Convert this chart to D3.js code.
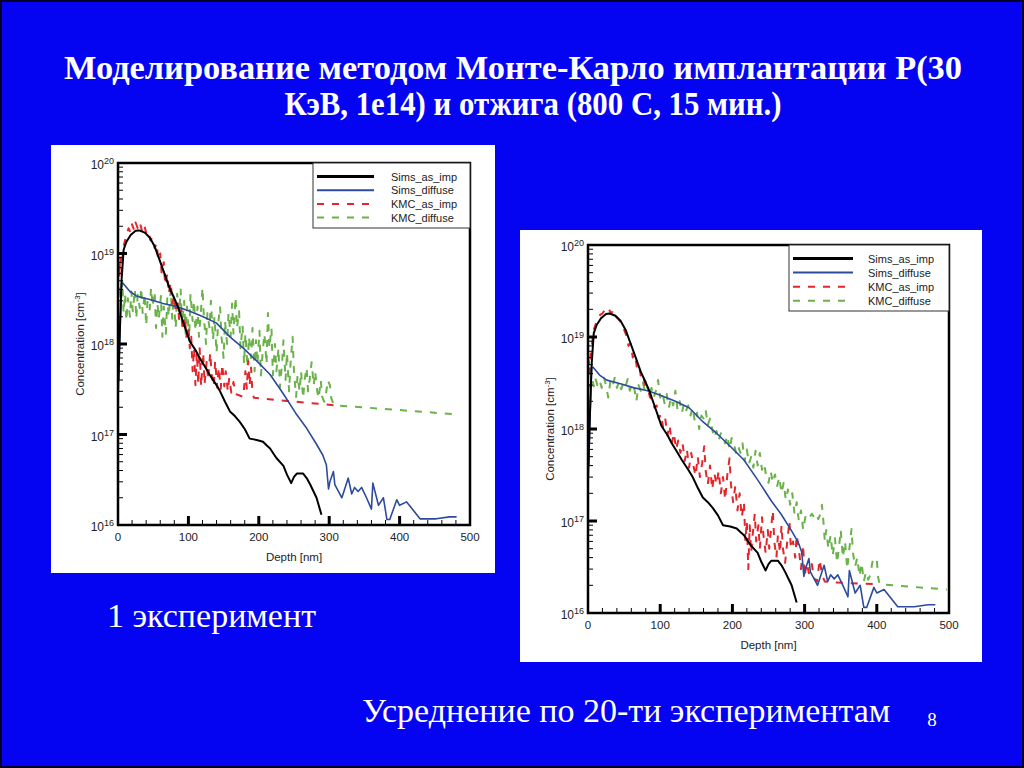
<!DOCTYPE html>
<html>
<head>
<meta charset="utf-8">
<script src="https://cdn.jsdelivr.net/npm/d3@7"></script>
<style>
  body { margin: 0; background: #0404f2; }
  svg { display: block; }
</style>
</head>
<body>
<div id="slide"></div>
<script>
// ---- data (depth in nm, concentration in cm^-3) ----
const titleLines = ["Моделирование методом Монте-Карло имплантации Р(30", "КэВ, 1е14) и отжига (800 С, 15 мин.)"];
const captions = ["1 эксперимент", "Усреднение по 20-ти экспериментам"];
const pageNumber = "8";

const seriesNames = ["Sims_as_imp", "Sims_diffuse", "KMC_as_imp", "KMC_diffuse"];
const depthTicks = [0, 100, 200, 300, 400, 500];
const depthMinorTicks = [20, 40, 60, 80, 120, 140, 160, 180, 220, 240, 260, 280, 320, 340, 360, 380, 420, 440, 460, 480];
const decadeTicks = [1e16, 1e17, 1e18, 1e19, 1e20];

const simsAsImp = [
  [0,2.8e17],[2,1e18],[5,5e18],[8,1.1e19],[12,1.35e19],[18,1.6e19],[25,1.78e19],[30,1.8e19],[38,1.7e19],
  [45,1.5e19],[52,1.2e19],[59,8.5e18],[66,6e18],[73,4.2e18],[80,3.2e18],[85,2.6e18],[92,1.8e18],[102,1.07e18],
  [110,8.6e17],[116,7e17],[123,5.7e17],[130,4.6e17],[138,3.7e17],[145,3e17],[152,2.3e17],[159,1.8e17],
  [166,1.6e17],[173,1.38e17],[180,1.15e17],[187,9e16],[197,8.7e16],[206,8.3e16],[211,7.6e16],[216,7e16],
  [225,5.5e16],[235,4.5e16],[240,3.6e16],[246,2.9e16],[250,3.4e16],[254,3.7e16],[263,3.7e16],[268,3.3e16],
  [273,2.8e16],[282,2e16],[289,1.3e16]
];

const simsDiffuse = [
  [1,4e17],[3,1.5e18],[5,4.6e18],[7,4.7e18],[17,3.8e18],[26,3.4e18],[45,3.1e18],[64,2.8e18],[83,2.6e18],
  [102,2.3e18],[121,2e18],[140,1.7e18],[159,1.2e18],[178,9e17],[197,6.5e17],[216,4.6e17],[235,2.8e17],
  [254,1.65e17],[268,1.17e17],[282,7.8e16],[291,5.9e16],[296,4.6e16],[299,2.5e16],[301,3e16],[306,3.9e16],
  [308,2.8e16],[318,2e16],[327,3.3e16],[332,2.2e16],[336,2.6e16],[341,2.35e16],[346,2.6e16],[353,2e16],
  [360,1.5e16],[362,2.9e16],[370,1.65e16],[377,2e16],[382,1.15e16],[386,1.15e16],[396,1.9e16],[400,1.65e16],
  [410,1.8e16],[429,1.17e16],[438,1.17e16],[452,1.17e16],[471,1.23e16],[481,1.23e16]
];

// 1 experiment
const kmcAsImp1 = [
  [0,4.5e18],[1,8e18],[2,5.5e18],[3,9.5e18],[5,6e18],[7,1.1e19],[9,1.3e19],[12,1.6e19],[15,1.9e19],[18,1.7e19],
  [20,2.1e19],[23,1.8e19],[25,2.2e19],[28,1.9e19],[31,2.2e19],[34,1.8e19],[37,2.1e19],[40,1.7e19],[43,1.8e19],
  [46,1.4e19],[49,1.5e19],[52,1.15e19],[55,1.3e19],[57,8.5e18],[60,1e19],[62,6e18],[65,8e18],[67,4.5e18],
  [70,6e18],[72,3.6e18],[75,4.8e18],[77,2.8e18],[80,3.4e18],[82,2.2e18],[85,2.8e18],[87,1.8e18],[90,2.4e18],
  [92,1.4e18],[95,2e18],[97,1.2e18],[100,1.6e18],[102,9e17],[104,1.2e18],[106,5e17],[108,9e17],[110,3.5e17],
  [112,8e17],[114,3.6e17],[116,9e17],[118,3.4e17],[121,8e17],[123,3.6e17],[126,6.5e17],[128,4e17],[131,8e17],
  [133,4.6e17],[136,3.4e17],[138,6.5e17],[141,3.3e17],[143,5.5e17],[146,3.2e17],[148,6e17],[151,3.4e17],
  [153,5e17],[156,3e17],[158,4.2e17],[161,2.9e17],[164,3.8e17],[167,2.8e17],[170,2.75e17],[178,2.6e17],
  [181,5e17],[183,3.2e17],[185,6.5e17],[187,3.5e17],[189,5.5e17],[191,2.9e17],[193,2.55e17],[240,2.35e17],
  [309,2.1e17]
];

const kmcDiffuse1 = [
  [0,2.4e18],[2,4.5e18],[4,2.8e18],[6,5e18],[8,2.2e18],[10,3.6e18],[12,1.8e18],[14,3.2e18],[17,2e18],[19,3.8e18],
  [21,2.3e18],[24,4e18],[26,1.9e18],[28,3.5e18],[31,2.5e18],[33,4.2e18],[35,2.2e18],[38,3.6e18],[40,1.6e18],
  [42,3e18],[45,2.4e18],[47,4.2e18],[49,2.6e18],[52,3.8e18],[54,1.5e18],[56,2.8e18],[58,1.9e18],[61,3.4e18],
  [63,1.2e18],[65,2.6e18],[68,1.3e18],[70,3.2e18],[72,2e18],[75,4e18],[77,1.9e18],[79,3.3e18],[82,1.5e18],
  [84,3.6e18],[87,2.2e18],[89,4e18],[91,1.6e18],[94,3e18],[96,1.3e18],[98,2.6e18],[101,1.1e18],[103,3.6e18],
  [106,1.8e18],[108,3e18],[110,1.4e18],[113,2.6e18],[115,1.2e18],[118,2.4e18],[120,4.2e18],[122,2e18],[125,1e18],
  [127,2.2e18],[130,1.5e18],[132,3e18],[135,1.1e18],[137,2e18],[140,8e17],[142,1.6e18],[145,2.6e18],[147,1.2e18],
  [150,7e17],[152,1.8e18],[155,1e18],[157,2.2e18],[160,1.2e18],[162,2.8e18],[164,1.3e18],[167,3.3e18],[169,1.5e18],
  [172,2.3e18],[174,9e17],[177,1.6e18],[179,6e17],[181,1.3e18],[184,5.5e17],[186,1.2e18],[189,7e17],[191,1.5e18],
  [194,5e17],[196,1.1e18],[198,6e17],[201,1.4e18],[203,4.5e17],[206,9e17],[208,1.3e18],[211,6e17],[213,2.2e18],
  [215,9e17],[218,1.5e18],[220,4.5e17],[223,1e18],[225,5e17],[228,9e17],[230,3.3e17],[233,6e17],[235,1.1e18],
  [238,4e17],[240,8e17],[243,3e17],[245,6e17],[248,1.2e18],[250,5e17],[253,2.6e17],[255,4.5e17],[258,3e17],
  [260,5e17],[263,2.5e17],[265,4e17],[268,5.5e17],[270,3e17],[273,4.5e17],[275,6.3e17],[278,3.5e17],[280,5e17],
  [283,3e17],[285,2.5e17],[288,4e17],[290,2.6e17],[293,2.3e17],[296,3e17],[298,4e17],[301,3.5e17],[303,2.5e17],
  [306,2.2e17],[310,2.1e17],[476,1.68e17]
];

// average of 20 experiments
const kmcAsImp20 = [
  [0,3.5e18],[1,5.5e18],[2,4e18],[4,7e18],[6,9e18],[8,1.2e19],[11,1.4e19],[14,1.6e19],[17,1.75e19],[20,1.8e19],
  [23,1.95e19],[26,1.85e19],[29,2e19],[32,1.8e19],[35,1.95e19],[38,1.7e19],[41,1.6e19],[44,1.5e19],[47,1.35e19],
  [50,1.2e19],[53,1.05e19],[56,8e18],[59,8.5e18],[62,6e18],[65,6.5e18],[68,4.5e18],[71,4.8e18],[74,3.4e18],
  [77,3.6e18],[80,2.8e18],[83,2.7e18],[86,2.2e18],[89,2.1e18],[92,1.7e18],[95,1.8e18],[98,1.3e18],[101,1.45e18],
  [104,1.05e18],[107,1.3e18],[110,8.5e17],[113,1.1e18],[116,7e17],[119,9e17],[122,6e17],[125,7.5e17],[128,5.5e17],
  [131,7e17],[134,4.5e17],[137,6e17],[140,3.8e17],[143,5.5e17],[146,4e17],[149,3.1e17],[152,5e17],[155,3e17],
  [158,4.2e17],[161,6.5e17],[163,3.5e17],[166,2.5e17],[169,4e17],[172,2.2e17],[175,3.3e17],[178,2.5e17],
  [181,3.5e17],[184,2e17],[187,3e17],[190,1.7e17],[193,3.2e17],[196,4.8e17],[198,2.5e17],[201,1.6e17],
  [204,2.4e17],[207,1.3e17],[210,2e17],[213,1.1e17],[216,1.6e17],[218,6e16],[220,1e17],[222,3e16],[224,9e16],
  [226,4.5e16],[228,7e16],[231,1.2e17],[233,6e16],[236,9e16],[238,5e16],[241,1.1e17],[243,7e16],[246,4.5e16],
  [249,8e16],[251,5e16],[254,9e16],[256,1.3e17],[258,6e16],[261,4e16],[263,7e16],[266,4.5e16],[268,9e16],
  [270,5e16],[273,3.5e16],[276,6e16],[279,1e17],[281,5e16],[284,6e16],[287,4e16],[289,7e16],[292,5e16],
  [295,3e16],[298,5.5e16],[300,2.5e16],[303,3.5e16],[306,2.7e16],[310,3.4e16],[313,2.4e16],[317,2.2e16],
  [321,3.8e16],[324,2.6e16],[328,2.2e16],[339,2.15e16],[402,2.05e16]
];

const kmcDiffuse20 = [
  [0,2.6e18],[2,3.4e18],[4,2.8e18],[6,3.5e18],[8,2.9e18],[10,3.6e18],[13,3e18],[16,3.4e18],[19,2.8e18],[22,3.6e18],
  [25,3e18],[28,2.2e18],[31,3.3e18],[34,2.9e18],[37,3.6e18],[40,2.8e18],[43,3.3e18],[46,2.7e18],[49,3.2e18],
  [52,2.9e18],[55,3.5e18],[58,2.6e18],[61,3.1e18],[64,2.8e18],[67,2e18],[70,3e18],[73,2.6e18],[76,3.2e18],
  [79,2.5e18],[82,2.9e18],[85,2.3e18],[88,2.8e18],[91,2.2e18],[94,2.6e18],[97,3.4e18],[100,2.2e18],[103,2.5e18],
  [106,1.9e18],[109,2.4e18],[112,1.7e18],[115,2.2e18],[118,1.8e18],[121,2.6e18],[124,1.6e18],[127,2e18],
  [130,1.5e18],[133,1.9e18],[136,1.6e18],[139,1.8e18],[142,1.4e18],[145,1.7e18],[148,1.2e18],[151,1.5e18],
  [154,1e18],[157,1.4e18],[160,1.3e18],[163,1.6e18],[166,1.1e18],[169,1.3e18],[172,1e18],[175,8e17],[178,9.5e17],
  [181,7.5e17],[184,9e17],[187,8e17],[190,7e17],[193,8.5e17],[196,6e17],[199,8e17],[202,7e17],[205,5.5e17],
  [208,6.5e17],[211,5.5e17],[214,7e17],[217,4.5e17],[220,6e17],[223,4.2e17],[226,5e17],[229,3.8e17],[232,5.8e17],
  [235,4e17],[238,5.5e17],[241,3.6e17],[244,4.2e17],[247,3e17],[250,2.6e17],[253,3.5e17],[256,2.6e17],
  [259,3.2e17],[262,2.4e17],[265,3e17],[268,2e17],[271,2.6e17],[274,1.7e17],[277,2.2e17],[280,1.5e17],
  [283,2e17],[286,1.2e17],[289,1.6e17],[292,1e17],[295,1.3e17],[298,8e16],[301,1.1e17],[304,1.2e17],[307,1.1e17],
  [310,1.2e17],[313,1.1e17],[316,1.2e17],[319,1.05e17],[322,1.2e17],[324,1.5e17],[326,1e17],[328,6e16],[330,8e16],
  [333,5e16],[336,7e16],[339,4.2e16],[342,6.5e16],[345,3.5e16],[348,5.5e16],[350,8e16],[353,4e16],[356,6e16],
  [359,3e16],[362,5e16],[365,8.2e16],[367,4.5e16],[370,3.2e16],[373,4e16],[376,2.5e16],[379,3.5e16],[382,2.2e16],
  [385,2.8e16],[388,2.3e16],[391,2.6e16],[394,3.6e16],[397,4e16],[400,3.8e16],[402,2.4e16],[404,2.05e16],
  [497,1.8e16]
];

// ---- style ----
const slideBlue = "#0404f2";
const seriesStyle = [
  { color: "#000000", width: 2,   dash: null },
  { color: "#2d4b9c", width: 1.6, dash: null },
  { color: "#e3262b", width: 2,   dash: "7,8" },
  { color: "#6bb24a", width: 2,   dash: "7,8" }
];
const axisFont = "'Liberation Sans', Arial, sans-serif";
const serifFont = "'Liberation Serif', 'Times New Roman', serif";

const svg = d3.select("#slide").append("svg")
    .attr("width", 1024)
    .attr("height", 768);

svg.append("rect")
    .attr("x", 1).attr("y", 1).attr("width", 1022).attr("height", 766)
    .attr("fill", slideBlue)
    .attr("stroke", "#000022").attr("stroke-width", 2);

// title (bold serif, squeezed to the reference width)
const title = svg.append("g")
    .attr("fill", "#fff")
    .attr("font-family", serifFont)
    .attr("font-weight", "bold")
    .attr("font-size", 33)
    .attr("text-anchor", "middle");
title.append("text").attr("x", 513).attr("y", 79)
    .attr("textLength", 898).attr("lengthAdjust", "spacingAndGlyphs")
    .text(titleLines[0]);
title.append("text").attr("x", 533).attr("y", 115)
    .attr("textLength", 497).attr("lengthAdjust", "spacingAndGlyphs")
    .text(titleLines[1]);

// captions
svg.append("text").attr("x", 107).attr("y", 627)
    .attr("fill", "#fff").attr("font-family", serifFont).attr("font-size", 34)
    .text(captions[0]);
svg.append("text").attr("x", 362).attr("y", 722)
    .attr("fill", "#fff").attr("font-family", serifFont).attr("font-size", 34)
    .text(captions[1]);
svg.append("text").attr("x", 932).attr("y", 726)
    .attr("fill", "#fff").attr("font-family", serifFont).attr("font-size", 19)
    .attr("text-anchor", "middle")
    .text(pageNumber);

function drawChart(cfg, seriesData) {
  const g = svg.append("g");

  g.append("rect")
      .attr("x", cfg.box.x).attr("y", cfg.box.y)
      .attr("width", cfg.box.w).attr("height", cfg.box.h)
      .attr("fill", "#fff");

  const p = cfg.plot;
  const x = d3.scaleLinear().domain([0, 500]).range([p.l, p.r]);
  const y = d3.scaleLog().domain([1e16, 1e20]).range([p.b, p.t]);

  const clipId = "clip" + cfg.id;
  g.append("clipPath").attr("id", clipId)
    .append("rect")
      .attr("x", p.l).attr("y", p.t).attr("width", p.r - p.l).attr("height", p.b - p.t);

  // lines, KMC first so Sims sit on top
  const line = d3.line().x(d => x(d[0])).y(d => y(d[1]));
  const order = [3, 2, 1, 0];
  g.append("g").attr("clip-path", `url(#${clipId})`)
    .selectAll("path")
    .data(order)
    .join("path")
      .attr("d", i => line(seriesData[i]))
      .attr("fill", "none")
      .attr("stroke", i => seriesStyle[i].color)
      .attr("stroke-width", i => seriesStyle[i].width)
      .attr("stroke-dasharray", i => seriesStyle[i].dash)
      .attr("stroke-linejoin", "round");

  // left axis ticks (inward)
  const minorY = y.ticks().filter(v => !decadeTicks.includes(v));
  g.append("g").selectAll("line")
    .data(minorY)
    .join("line")
      .attr("x1", p.l).attr("x2", p.l + 5)
      .attr("y1", d => y(d)).attr("y2", d => y(d))
      .attr("stroke", "#000").attr("stroke-width", 1);
  g.append("g").selectAll("line")
    .data(decadeTicks.slice(1, -1))
    .join("line")
      .attr("x1", p.l).attr("x2", p.l + 9)
      .attr("y1", d => y(d)).attr("y2", d => y(d))
      .attr("stroke", "#000").attr("stroke-width", 3);

  // bottom axis ticks (inward)
  g.append("g").selectAll("line")
    .data(depthMinorTicks)
    .join("line")
      .attr("x1", d => x(d)).attr("x2", d => x(d))
      .attr("y1", p.b).attr("y2", p.b - 5)
      .attr("stroke", "#000").attr("stroke-width", 1);
  g.append("g").selectAll("line")
    .data(depthTicks.slice(1, -1))
    .join("line")
      .attr("x1", d => x(d)).attr("x2", d => x(d))
      .attr("y1", p.b).attr("y2", p.b - 9)
      .attr("stroke", "#000").attr("stroke-width", 3);

  // frame
  g.append("rect")
      .attr("x", p.l).attr("y", p.t).attr("width", p.r - p.l).attr("height", p.b - p.t)
      .attr("fill", "none").attr("stroke", "#000").attr("stroke-width", 2.5);

  // tick labels
  const labels = g.append("g").attr("font-family", axisFont).attr("fill", "#222");
  labels.selectAll("text.xl")
    .data(depthTicks)
    .join("text")
      .attr("class", "xl")
      .attr("x", d => x(d)).attr("y", p.b + 16)
      .attr("text-anchor", "middle").attr("font-size", 11.5)
      .text(d => d);
  const yl = labels.selectAll("text.yl")
    .data(decadeTicks)
    .join("text")
      .attr("class", "yl")
      .attr("x", p.l - 4).attr("y", d => y(d) + 6)
      .attr("text-anchor", "end").attr("font-size", 12);
  yl.append("tspan").text("10");
  yl.append("tspan").attr("dy", -5).attr("font-size", 9).text(d => Math.round(Math.log10(d)));

  labels.append("text")
      .attr("x", (p.l + p.r) / 2).attr("y", p.b + 36)
      .attr("text-anchor", "middle").attr("font-size", 11.5)
      .text("Depth [nm]");
  const yt = labels.append("text")
      .attr("transform", `translate(${cfg.yLabelX},${(p.t + p.b) / 2}) rotate(-90)`)
      .attr("text-anchor", "middle").attr("font-size", 11.5);
  yt.append("tspan").text("Concentration [cm");
  yt.append("tspan").attr("dy", -4).attr("font-size", 8).text("-3");
  yt.append("tspan").attr("dy", 4).text("]");

  // legend
  const L = cfg.legend;
  const lg = g.append("g");
  lg.append("rect")
      .attr("x", L.x).attr("y", p.t).attr("width", p.r - L.x).attr("height", L.h)
      .attr("fill", "#fff").attr("stroke", "#333").attr("stroke-width", 1);
  const rows = lg.selectAll("g.row")
    .data(seriesNames)
    .join("g")
      .attr("class", "row")
      .attr("transform", (d, i) => `translate(${L.x + 4},${p.t + L.row0 + i * L.step})`);
  rows.append("line")
      .attr("x1", 0).attr("x2", L.lineLen)
      .attr("stroke", (d, i) => seriesStyle[i].color)
      .attr("stroke-width", (d, i) => i === 0 ? 3 : 2)
      .attr("stroke-dasharray", (d, i) => seriesStyle[i].dash);
  rows.append("text")
      .attr("x", L.textX).attr("y", 4)
      .attr("font-family", axisFont).attr("font-size", 11).attr("fill", "#222")
      .text(d => d);
}

drawChart({
  id: 1,
  box: { x: 51, y: 145, w: 444, h: 428 },
  plot: { l: 118, r: 470, t: 163, b: 525 },
  yLabelX: 84,
  legend: { x: 313, h: 65, row0: 13.5, step: 13.7, lineLen: 57, textX: 74 }
}, [simsAsImp, simsDiffuse, kmcAsImp1, kmcDiffuse1]);

drawChart({
  id: 2,
  box: { x: 520, y: 230, w: 462, h: 432 },
  plot: { l: 588, r: 949, t: 245, b: 613 },
  yLabelX: 554,
  legend: { x: 789, h: 66, row0: 13.5, step: 14.1, lineLen: 60, textX: 75 }
}, [simsAsImp, simsDiffuse, kmcAsImp20, kmcDiffuse20]);
</script>
</body>
</html>
